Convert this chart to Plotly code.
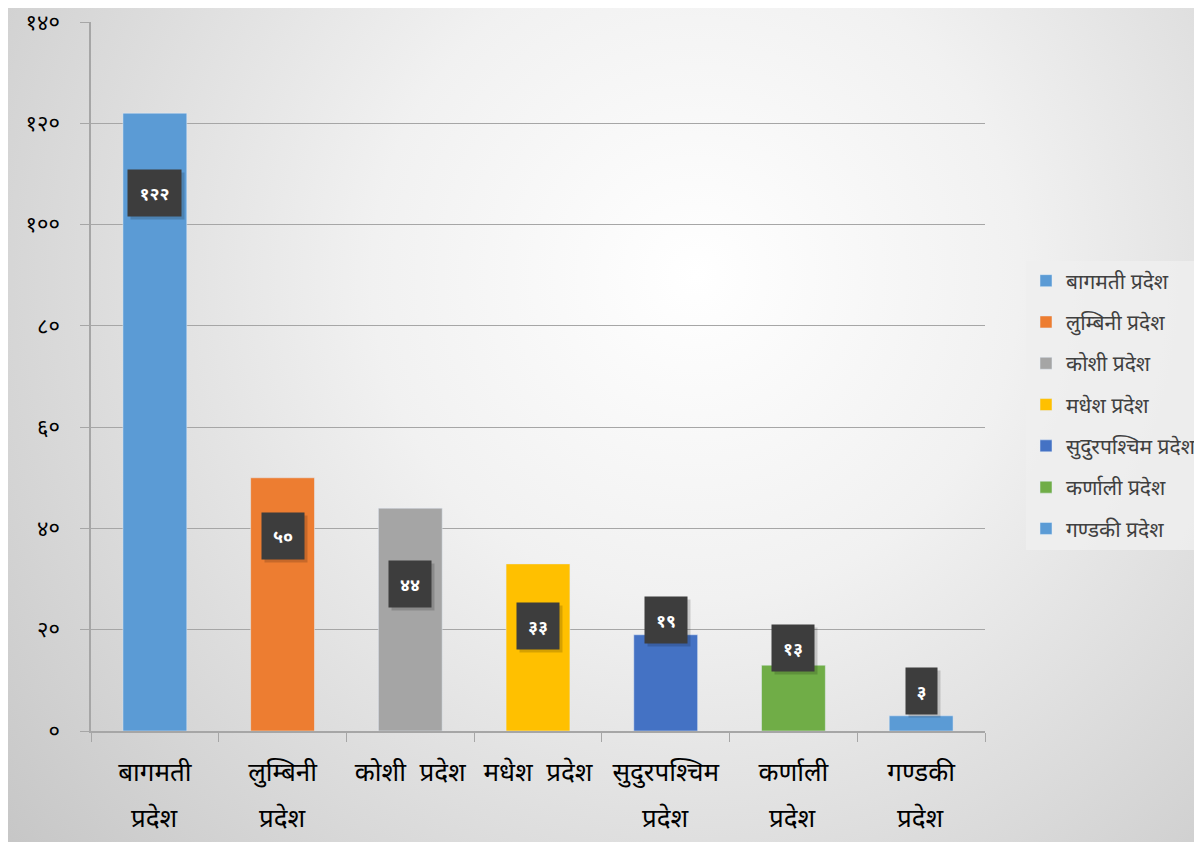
import base64
import plotly.graph_objects as go

# ---- data ----
categories = ["बागमती प्रदेश", "लुम्बिनी प्रदेश", "कोशी प्रदेश", "मधेश प्रदेश",
              "सुदुरपश्चिम प्रदेश", "कर्णाली प्रदेश", "गण्डकी प्रदेश"]
tick_line1 = ["बागमती", "लुम्बिनी", "कोशी  प्रदेश", "मधेश  प्रदेश",
              "सुदुरपश्चिम", "कर्णाली", "गण्डकी"]
tick_line2 = ["प्रदेश", "प्रदेश", "", "", "प्रदेश", "प्रदेश", "प्रदेश"]
values = [122, 50, 44, 33, 19, 13, 3]
y_ticks = [0, 20, 40, 60, 80, 100, 120, 140]

# ---- style ----
colors = ["#5B9BD5", "#ED7D31", "#A5A5A5", "#FFC000", "#4472C4", "#70AD47", "#5B9BD5"]
label_shift_px = [-80, -58, -76, -62, 15, 17, 25]

DEV = str.maketrans("0123456789", "०१२३४५६७८९")
def to_dev(n):
    return str(n).translate(DEV)

FONT = "Noto Sans, Noto Sans Devanagari, sans-serif"

OFF = 8  # page body margin
W, H = 1202 - 2 * OFF, 850 - 2 * OFF
L, T = 91 - OFF, 22 - OFF
R = (OFF + W) - 985
B = (OFF + H) - 731
pw, ph = W - L - R, H - T - B

fig = go.Figure()
for i, (c, v) in enumerate(zip(categories, values)):
    fig.add_trace(go.Bar(x=[c], y=[v], name=c, marker_color=colors[i],
                         legendgroup=str(i), hoverinfo="skip"))

for i, (c, v) in enumerate(zip(categories, values)):
    # soft shadow box (no text)
    fig.add_annotation(x=c, y=v, yshift=label_shift_px[i] - 3, xshift=3,
                       text="&nbsp;", showarrow=False, width=11 * len(str(v)) + 4,
                       font=dict(size=18, color="rgba(0,0,0,0)", family=FONT),
                       bgcolor="rgba(0,0,0,0.16)", borderpad=8, height=30)
    fig.add_annotation(x=c, y=v, yshift=label_shift_px[i],
                       text="<b>" + to_dev(v) + "</b>", showarrow=False,
                       width=11 * len(str(v)) + 4,
                       font=dict(size=18, color="white", family=FONT),
                       bgcolor="#3d3d3d", borderpad=8, height=30)

for c, t2 in zip(categories, tick_line2):
    if t2:
        fig.add_annotation(x=c, y=0, xref="x", yref="paper", yanchor="top",
                           yshift=-66, text=t2, showarrow=False,
                           font=dict(size=26, color="#000000", family=FONT))

svg = f'''<svg xmlns="http://www.w3.org/2000/svg" width="{W}" height="{H}" viewBox="0 0 {W} {H}" preserveAspectRatio="none">
<defs><radialGradient id="g" cx="{0.58*W}" cy="{0.32*H}" r="{0.78*W}" gradientUnits="userSpaceOnUse">
<stop offset="0" stop-color="#ffffff"/><stop offset="0.35" stop-color="#f1f1f1"/>
<stop offset="1" stop-color="#c4c4c4"/></radialGradient></defs>
<rect width="{W}" height="{H}" fill="url(#g)"/>
</svg>'''
src = "data:image/svg+xml;base64," + base64.b64encode(svg.encode()).decode()

fig.add_layout_image(dict(source=src, xref="paper", yref="paper",
                          x=-L / pw, y=1 + T / ph, sizex=W / pw, sizey=H / ph,
                          xanchor="left", yanchor="top", sizing="stretch", layer="below"))

fig.update_layout(
    width=W, height=H,
    margin=dict(l=L, r=R, t=T, b=B, autoexpand=False),
    paper_bgcolor="rgba(0,0,0,0)", plot_bgcolor="rgba(0,0,0,0)",
    barmode="overlay", bargap=0.5,
    font=dict(family=FONT, color="#000000"),
    showlegend=True,
    legend=dict(x=(1026 - OFF - L) / pw, xanchor="left",
                y=(731 - 405) / ph, yanchor="middle",
                bgcolor="rgba(238,238,238,0.85)", font=dict(size=21, color="#404040", family=FONT),
                traceorder="grouped", tracegroupgap=11, itemwidth=30),
    xaxis=dict(categoryorder="array", categoryarray=categories,
               tickvals=categories, ticktext=tick_line1,
               tickfont=dict(size=26, color="#000000", family=FONT),
               showline=True, linecolor="#a6a6a6", linewidth=1.5,
               ticks="outside", tickson="boundaries", ticklen=9, tickcolor="#a6a6a6",
               ticklabelstandoff=17,
               showgrid=False, fixedrange=True),
    yaxis=dict(range=[0, 140], tickvals=y_ticks, ticktext=[to_dev(t) for t in y_ticks],
               tickfont=dict(size=22, color="#000000", family=FONT),
               showline=True, linecolor="#a6a6a6", linewidth=1.5,
               ticks="outside", ticklen=9, tickcolor="#a6a6a6", ticklabelstandoff=16,
               ticklabeloverflow="allow",
               showgrid=True, gridcolor="#a6a6a6", gridwidth=1.2,
               zeroline=False, fixedrange=True),
)

fig.write_html("out.html")
